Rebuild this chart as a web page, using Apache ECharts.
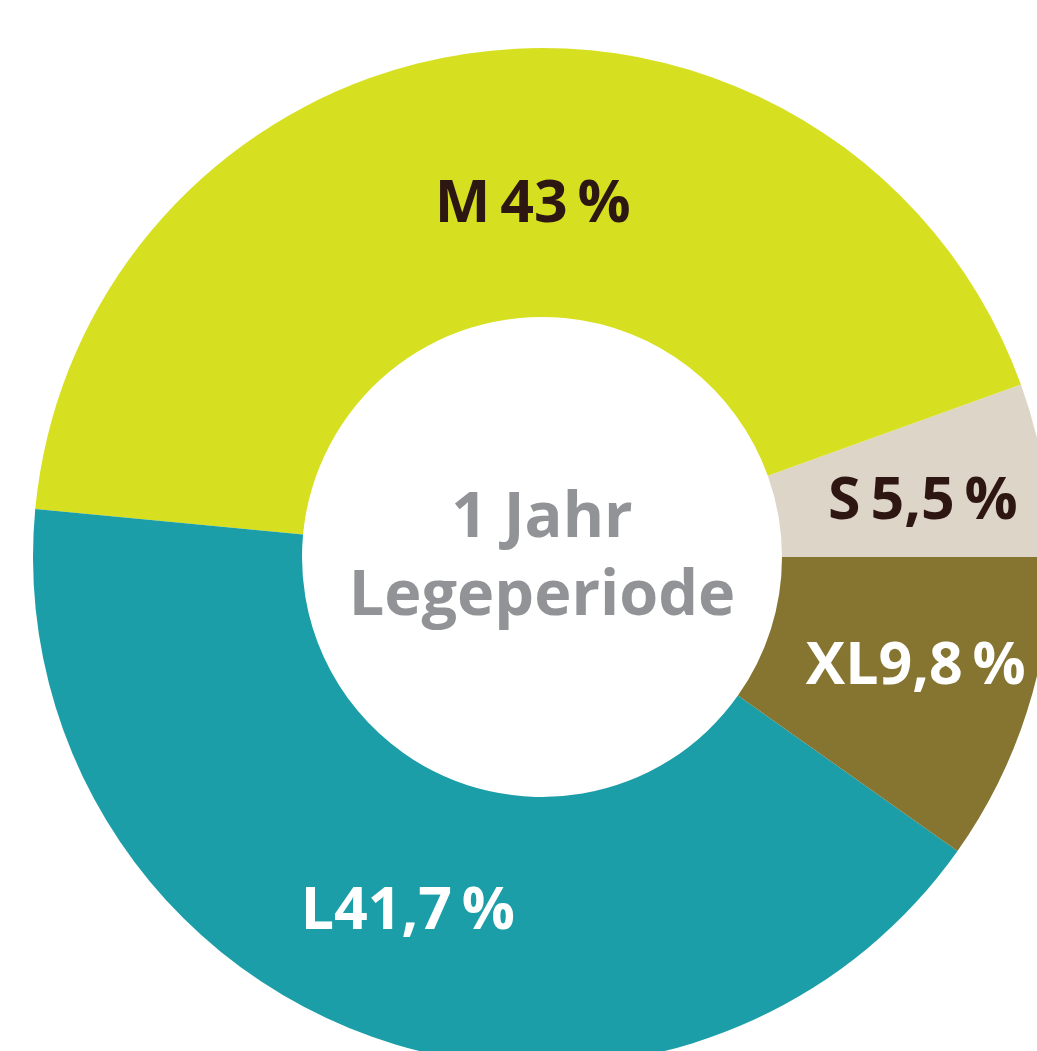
<!DOCTYPE html>
<html>
<head>
<meta charset="utf-8">
<script src="https://cdn.jsdelivr.net/npm/echarts@6/dist/echarts.min.js"></script>
<style>
    html, body {margin: 0; padding: 0; background: #ffffff;}
    #chart {width: 1037px; height: 1051px;}
</style>
</head>
<body>
<div id="chart"></div>
<script>
// Gewichtsklassen, 1 Jahr Legeperiode
var sizes = ['S', 'M', 'L', 'XL'];
var shares = [5.5, 43, 41.7, 9.8];
var sliceColors = ['#ddd5c7', '#d6e020', '#1c9ea8', '#857531'];
var labelColors = ['#2e1612', '#2e1612', '#ffffff', '#ffffff'];
var labelOffsets = [[9, 10], [38, 23], [-3, 1], [14, -4]];
var centerText = '1 Jahr\nLegeperiode';

var chart = echarts.init(document.getElementById('chart'));

var pieData = [];
for (var i = 0; i < sizes.length; i++) {
    pieData.push({
        name: sizes[i],
        value: shares[i],
        itemStyle: {color: sliceColors[i]},
        label: {color: labelColors[i], offset: labelOffsets[i]}
    });
}

var option = {
    backgroundColor: '#ffffff',
    animation: false,
    graphic: [{
        type: 'text',
        x: 542,
        y: 558,
        style: {
            text: centerText,
            fill: '#929396',
            font: 'bold 63px "Open Sans"',
            align: 'center',
            verticalAlign: 'middle',
            lineHeight: 78
        }
    }],
    series: [{
        type: 'pie',
        center: [542, 557],
        radius: [240, 509],
        startAngle: 0,
        clockwise: false,
        silent: true,
        label: {
            show: true,
            position: 'inside',
            fontFamily: 'Open Sans',
            fontWeight: 'bold',
            fontSize: 59,
            formatter: function (p) {
                var sep = p.name.length > 1 || p.name === 'L' ? '' : '\u2009';
                return p.name + sep + String(p.value).replace('.', ',') + '\u2009%';
            }
        },
        labelLine: {show: false},
        itemStyle: {borderWidth: 0},
        data: pieData
    }]
};
chart.setOption(option);
</script>
</body>
</html>
